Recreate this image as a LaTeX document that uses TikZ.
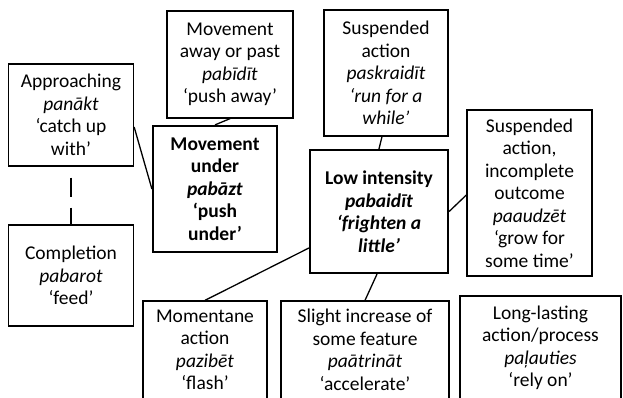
\documentclass[tikz,border=0pt]{standalone}
\usepackage{fontspec}
\setmainfont{Carlito}
\begin{document}
\begin{tikzpicture}[x=1pt,y=-1pt,
  box/.style={draw, line width=1.3pt, align=center, inner sep=2pt,
    font=\fontsize{19.5pt}{22.5pt}\selectfont},
  mainbox/.style={box, line width=2.2pt},
  link/.style={line width=1.3pt}]
\useasboundingbox (0,0) rectangle (623,398);
\clip (0,0) rectangle (623,398);

% upper row and left column
\node[box, minimum width=125pt, minimum height=102pt] (A) at (71,115)
  {Approaching\\\textit{panākt}\\‘catch up\\with’};
\node[box, minimum width=126pt, minimum height=107pt] (B) at (230,64.5)
  {Movement\\away or past\\\textit{pabīdīt}\\‘push away’};
\node[mainbox, minimum width=124pt, minimum height=126pt] (C) at (215,189)
  {\textbf{Movement}\\\textbf{under}\\\textbf{\textit{pabāzt}}\\\textbf{‘push}\\\textbf{under’}};
\node[box, minimum width=124pt, minimum height=126pt] (D) at (386,73)
  {Suspended\\action\\\textit{paskraidīt}\\\textit{‘run for a}\\\textit{while’}};
\node[mainbox, minimum width=138pt, minimum height=123pt] (E) at (379,211.5)
  {\textbf{Low intensity}\\\textbf{\textit{pabaidīt}}\\\textbf{\textit{‘frighten a}}\\\textbf{\textit{little’}}};
\node[box, minimum width=125pt, minimum height=166pt] (F) at (529.5,193)
  {Suspended\\action,\\incomplete\\outcome\\\textit{paaudzēt}\\‘grow for\\some time’};
\node[box, minimum width=125pt, minimum height=101pt] (G) at (71,275.5)
  {Completion\\\textit{pabarot}\\‘feed’};

% bottom row, running past the lower edge
\node[box, minimum width=124pt, minimum height=98pt] (H) at (205,350)
  {Momentane\\action\\\textit{pazibēt}\\‘flash’};
\node[box, minimum width=168pt, minimum height=98pt] (I) at (365,350)
  {Slight increase of\\some feature\\\textit{paātrināt}\\‘accelerate’};
\node[box, minimum width=161pt, minimum height=104pt] (J) at (540.5,348)
  {Long-lasting\\action/process\\\textit{paļauties}\\‘rely on’};

% connectors
\draw[link] ([yshift=-12pt]A.east) -- (C.west);
\draw[link] (B.south) -- (C.north);
\draw[link] ([xshift=-4pt]D.south) -- (E.north);
\draw[link] (E.east) -- ([yshift=-2pt]F.west);
\draw[link] ([yshift=-36.5pt]E.west) -- (H.north);
\draw[link] ([xshift=-2pt]E.south) -- (I.north);
\draw[link, dash pattern=on 19pt off 11pt, dash phase=19pt] (A.south) -- (G.north);
\end{tikzpicture}
\end{document}
